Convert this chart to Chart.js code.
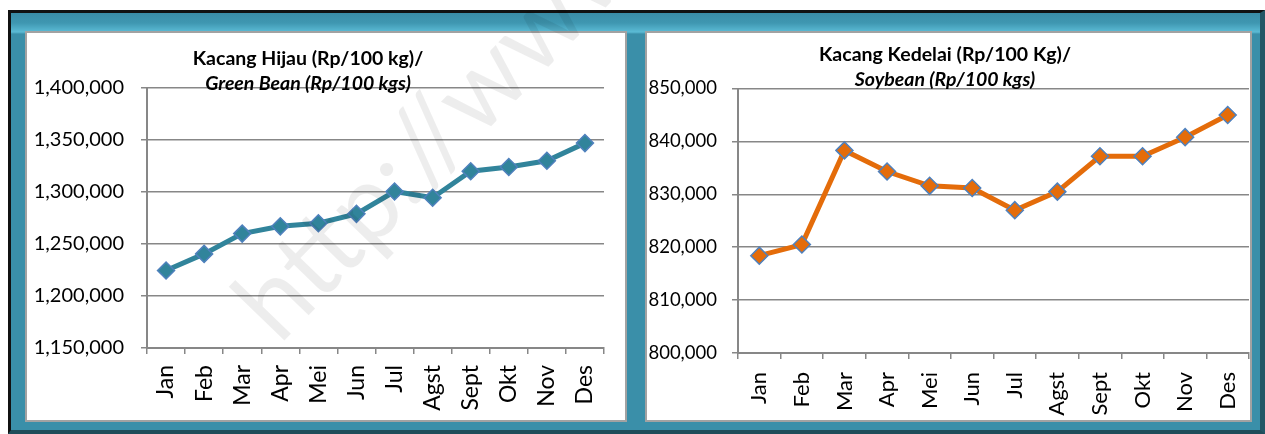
<!DOCTYPE html>
<html>
<head>
    <title>Kacang Hijau / Kacang Kedelai</title>
    <style>
        * {
            margin: 0;
            padding: 0;
            box-sizing: border-box;
        }

        body {
            width: 1265px;
            height: 434px;
            background: #fff;
            font-family: Lato, "Open Sans", sans-serif;
            position: relative;
            overflow: hidden;
        }

        /* bingkai biru */
        .frame {
            position: absolute;
            left: 8px;
            top: 10px;
            width: 1257px;
            height: 424px;
            background: linear-gradient(180deg, #3a8ca6 0px, #3f97b1 10px, #5bbbd5 19px, #3a8fa9 21px);
            border-top: 3px solid #111;
            border-left: 3px solid #111;
            border-right: 5px solid #235766;
            border-bottom: 4px solid #1f4d5a;
        }

        .panel {
            position: absolute;
            top: 31px;
            height: 391px;
            background: #fff;
            border: 2px solid #a2a2a2;
        }

        .panel canvas {
            position: absolute;
            left: -2px;
            top: -2px;
        }

        .title {
            position: absolute;
            text-align: center;
            font-weight: bold;
            font-size: 19.5px;
            line-height: 25px;
            color: #000;
            white-space: nowrap;
        }

        .title i {
            font-style: italic;
        }

        .watermark {
            position: absolute;
            left: 295px;
            top: 235px;
            font-size: 105px;
            font-weight: 400;
            color: rgba(0, 0, 0, 0.07);
            transform: rotate(-46deg);
            transform-origin: left bottom;
            white-space: nowrap;
            pointer-events: none;
        }
    </style>
</head>
<body>
    <div class="frame"></div>
    <div class="panel" style="left:25px; width:602px;">
        <canvas id="chartHijau" width="602" height="391"></canvas>
    </div>
    <div class="panel" style="left:645px; width:607px;">
        <canvas id="chartKedelai" width="607" height="391"></canvas>
    </div>

    <div class="title" style="left:158px; width:300px; top:45px;">
        Kacang Hijau (Rp/100 kg)/<br><i>Green Bean (Rp/100 kgs)</i>
    </div>
    <div class="title" style="left:795px; width:300px; top:41px;">
        Kacang Kedelai (Rp/100 Kg)/<br><i>Soybean (Rp/100 kgs)</i>
    </div>

    <div class="watermark">http://www</div>

    <script src="https://cdn.jsdelivr.net/npm/chart.js"></script>
    <script>
        // Data harga bulanan
        var bulan = ['Jan', 'Feb', 'Mar', 'Apr', 'Mei', 'Jun', 'Jul', 'Agst', 'Sept', 'Okt', 'Nov', 'Des'];
        var hargaHijau = [1224500, 1240500, 1260000, 1267000, 1270000, 1279000, 1300500, 1294500, 1320000, 1324000, 1330000, 1347000];
        var hargaKedelai = [818400, 820500, 838300, 834300, 831600, 831200, 827000, 830500, 837200, 837200, 840800, 845000];

        // Rentang sumbu Y: min, max, langkah
        var sumbuHijau = [1150000, 1400000, 50000];
        var sumbuKedelai = [800000, 850000, 10000];

        var abu = '#878787';

        function buatGrafik(id, data, sumbu, warna, ukuran) {
            var ctx = document.getElementById(id).getContext('2d');
            return new Chart(ctx, {
                type: 'line',
                data: {
                    labels: bulan,
                    datasets: [{
                        data: data,
                        borderColor: warna,
                        backgroundColor: warna,
                        borderWidth: 5,
                        tension: 0,
                        pointStyle: 'rectRot',
                        pointRadius: 8.5,
                        pointBackgroundColor: warna,
                        pointBorderColor: '#4f81bd',
                        pointBorderWidth: 1.5
                    }]
                },
                options: {
                    responsive: false,
                    animation: false,
                    layout: {
                        autoPadding: false,
                        padding: { top: ukuran.top, right: ukuran.right, left: 0, bottom: 0 }
                    },
                    plugins: {
                        legend: { display: false },
                        tooltip: { enabled: false }
                    },
                    scales: {
                        x: {
                            offset: true,
                            grid: {
                                offset: true,
                                drawOnChartArea: false,
                                drawTicks: true,
                                tickLength: 6,
                                color: abu,
                                lineWidth: 1.5
                            },
                            border: { color: abu, width: 2 },
                            ticks: {
                                autoSkip: false,
                                minRotation: 90,
                                maxRotation: 90,
                                padding: ukuran.xPad,
                                color: '#000',
                                font: { family: 'Lato', size: ukuran.xFont }
                            },
                            afterFit: function (scale) {
                                scale.height = ukuran.xHeight;
                                scale.paddingLeft = 0;
                                scale.paddingRight = 0;
                            }
                        },
                        y: {
                            min: sumbu[0],
                            max: sumbu[1],
                            ticks: {
                                stepSize: sumbu[2],
                                padding: ukuran.yPad,
                                color: '#000',
                                font: { family: 'Lato', size: ukuran.yFont },
                                callback: function (v) {
                                    return v.toLocaleString('en-US');
                                }
                            },
                            grid: {
                                color: abu,
                                lineWidth: 1.5,
                                tickLength: 6
                            },
                            border: { color: abu, width: 2 },
                            afterFit: function (scale) {
                                scale.width = ukuran.yWidth;
                                scale.paddingTop = 0;
                                scale.paddingBottom = 0;
                            }
                        }
                    }
                }
            });
        }

        buatGrafik('chartHijau', hargaHijau, sumbuHijau, '#31849b', {
            top: 57, right: 23, yWidth: 122, xHeight: 74,
            yPad: 17, xPad: 11, yFont: 20, xFont: 23
        });

        buatGrafik('chartKedelai', hargaKedelai, sumbuKedelai, '#e46c0a', {
            top: 57.5, right: 3, yWidth: 93, xHeight: 69,
            yPad: 15, xPad: 13, yFont: 18.5, xFont: 22
        });
    </script>
</body>
</html>
